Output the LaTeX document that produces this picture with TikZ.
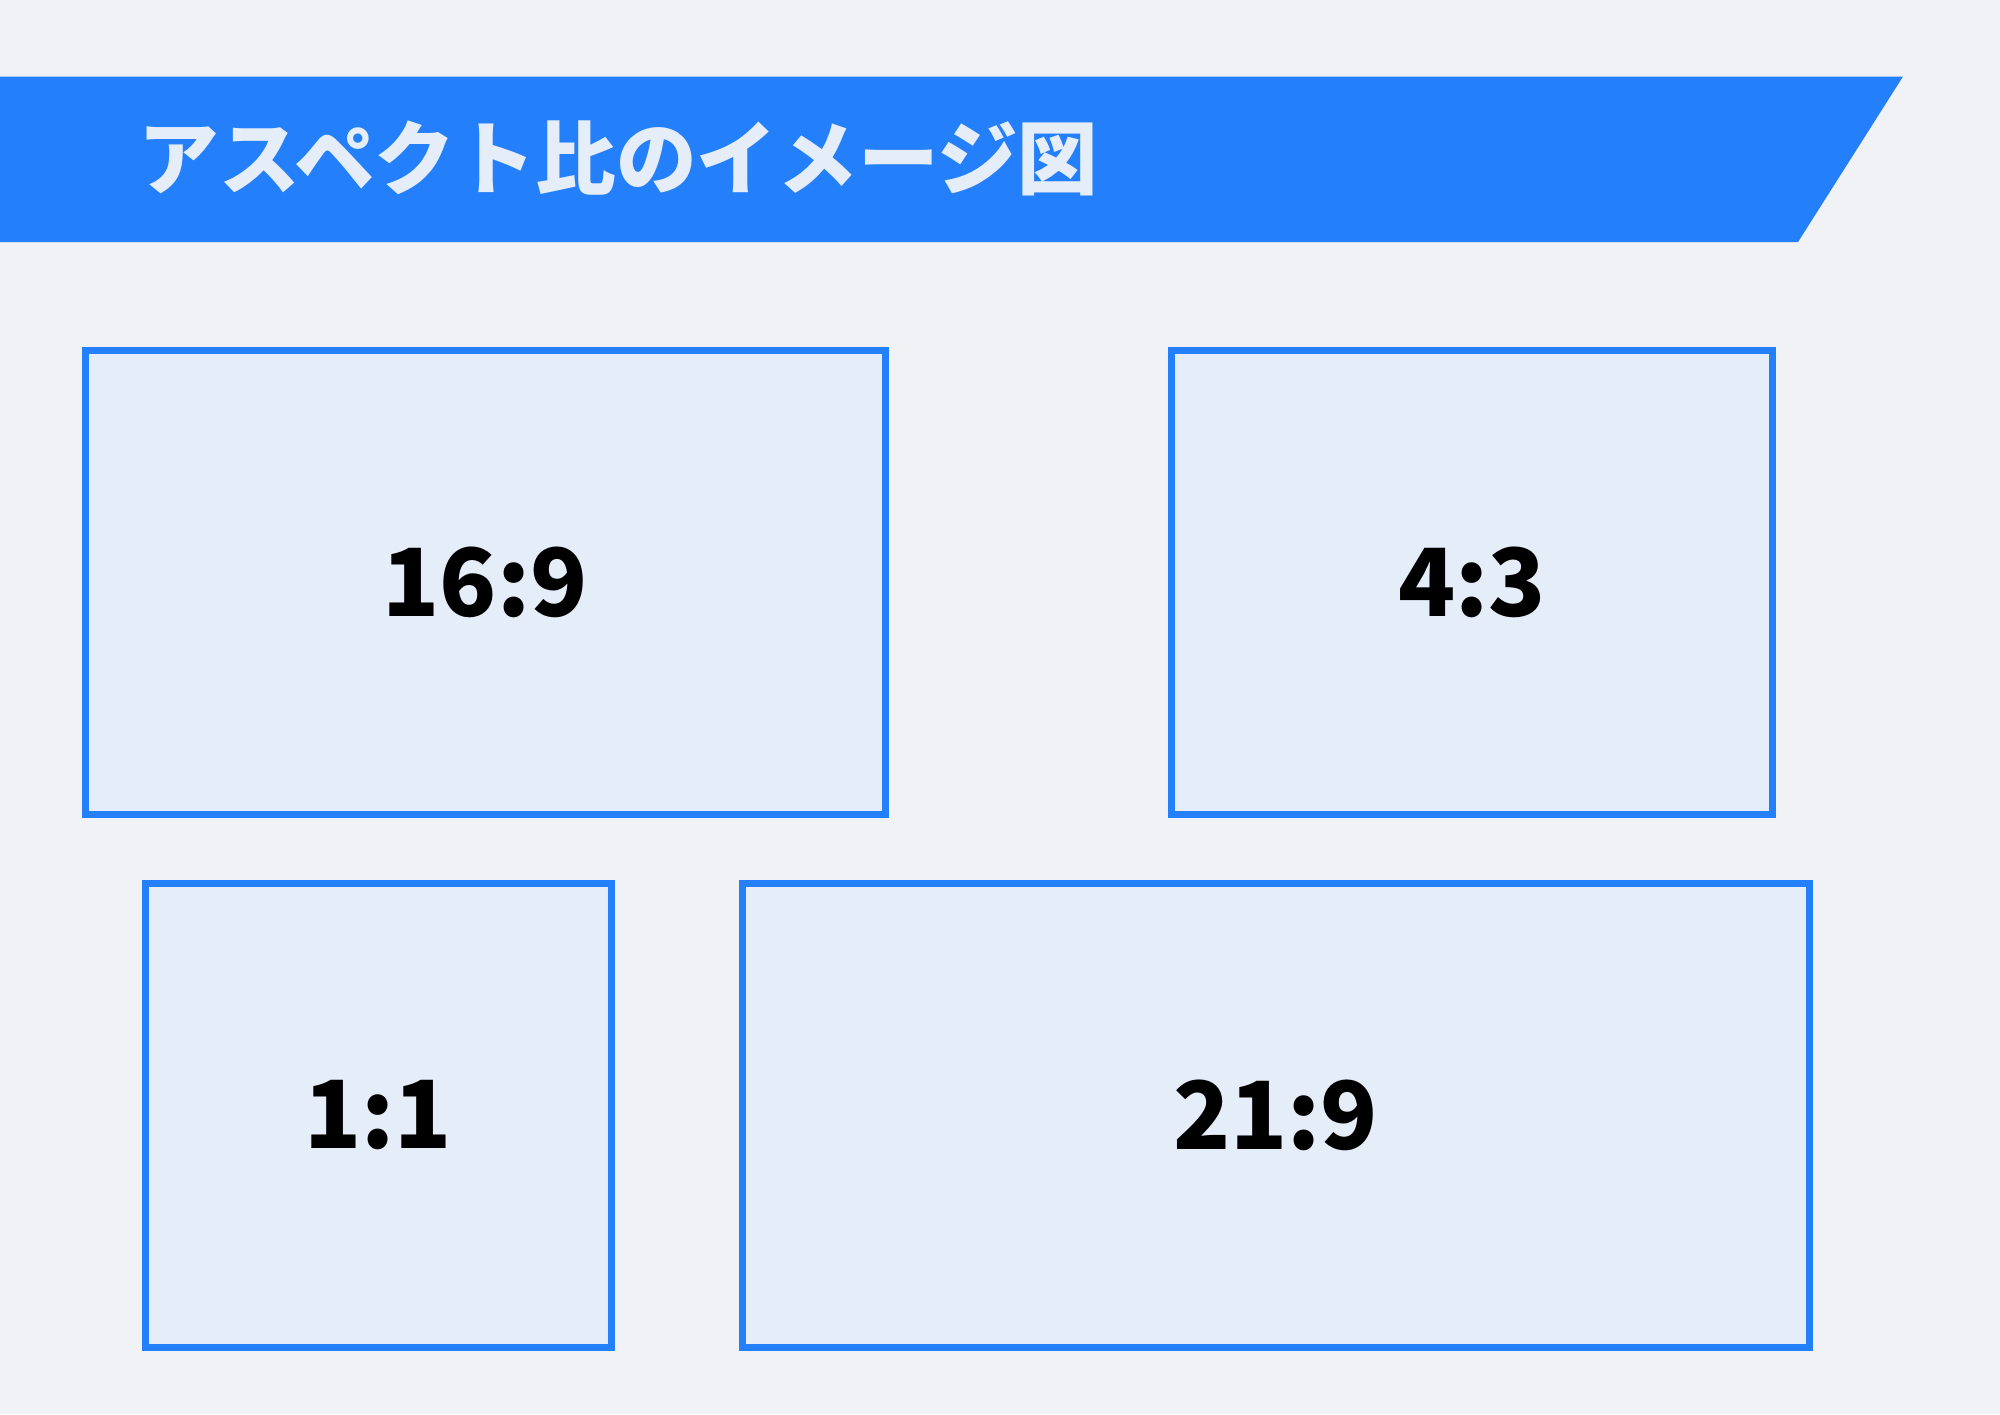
\documentclass[tikz,border=0pt]{standalone}
\usepackage{fontspec}
\newfontfamily\jpfont{Noto Sans CJK JP}
\definecolor{pagebg}{HTML}{F0F2F5}
\definecolor{bannerblue}{HTML}{247FFA}
\definecolor{framepale}{HTML}{E5EDF9}
\begin{document}
\begin{tikzpicture}[
  x=0.5pt, y=-0.5pt,
  ratiobox/.style={draw=bannerblue, line width=3.5pt, fill=framepale,
    minimum height=232pt,
    font=\jpfont\bfseries\fontsize{47pt}{47pt}\selectfont, text=black},
  titletext/.style={anchor=base west, inner sep=0pt, text=framepale,
    font=\jpfont\bfseries\fontsize{40.3pt}{40.3pt}\selectfont}
]
  % Page and banner
  \fill[pagebg] (0,0) rectangle (2000,1414);
  \useasboundingbox (0,0) rectangle (2000,1414);
  \fill[bannerblue] (0,76.5) -- (1903,76.5) -- (1798,242) -- (0,242) -- cycle;
  \node[titletext] (title) at (138,188) {アスペクト比のイメージ図};

  % Ratio frames
  \node[ratiobox, minimum width=400pt] (wide) at (485,582) {16:9};
  \node[ratiobox, minimum width=300.5pt] (classic) at (1472,582) {4:3};
  \node[ratiobox, minimum width=233pt] (square) at (378,1115.5) {1:1};
  \node[ratiobox, minimum width=533.5pt] (cinema) at (1275.5,1115.5) {21:9};
\end{tikzpicture}
\end{document}
